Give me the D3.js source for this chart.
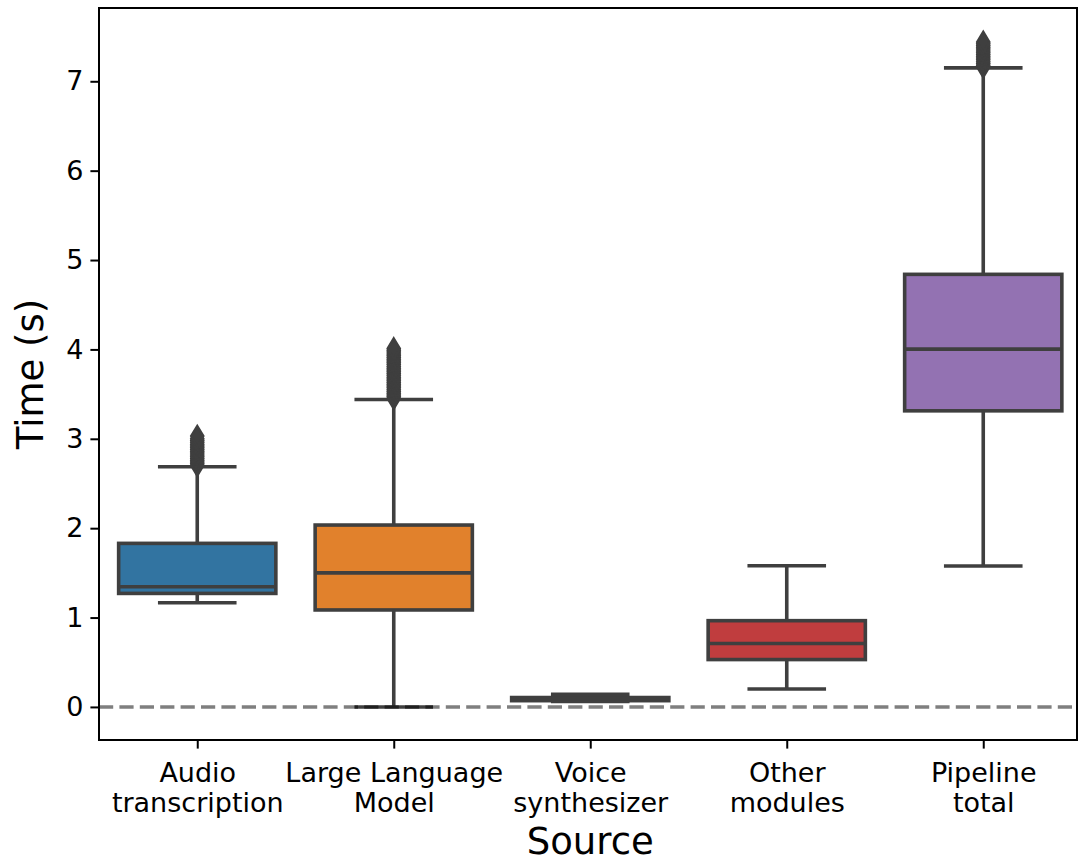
<!DOCTYPE html>
<html>
<head>
<meta charset="utf-8">
<script src="https://cdn.jsdelivr.net/npm/d3@7"></script>
<style>
  html, body { margin: 0; padding: 0; background: #fff; }
  svg { display: block; font-family: "DejaVu Sans", sans-serif; }
</style>
</head>
<body>
<svg id="chart" width="1078" height="863"></svg>
<script>
// Latency per pipeline stage (seconds)
const categories = [
  ["Audio", "transcription"],
  ["Large Language", "Model"],
  ["Voice", "synthesizer"],
  ["Other", "modules"],
  ["Pipeline", "total"]
];
const whiskerLow  = [1.166, 0.00, 0.06, 0.20, 1.577];
const quartile1   = [1.27,  1.085, 0.07, 0.53, 3.313];
const medians     = [1.345, 1.50, 0.09, 0.71, 4.003];
const quartile3   = [1.83,  2.035, 0.105, 0.965, 4.84];
const whiskerHigh = [2.687, 3.44, 0.14, 1.58, 7.15];

const audioFliers = [2.70, 2.72, 2.74, 2.76, 2.78, 2.80, 2.82, 2.84, 2.86, 2.88,
                     2.90, 2.92, 2.94, 2.96, 2.98, 3.00, 3.03];
const llmFliers = [3.45, 3.47, 3.49, 3.51, 3.53, 3.55, 3.57, 3.59, 3.61, 3.63,
                   3.65, 3.67, 3.69, 3.71, 3.73, 3.75, 3.77, 3.79, 3.81, 3.83,
                   3.85, 3.87, 3.89, 3.91, 3.93, 3.95, 3.97, 3.99, 4.01];
const voiceFliers = [];
const otherFliers = [];
const pipelineFliers = [7.16, 7.18, 7.20, 7.22, 7.24, 7.26, 7.28, 7.30, 7.32, 7.34,
                        7.36, 7.38, 7.40, 7.42, 7.44];
const fliers = [audioFliers, llmFliers, voiceFliers, otherFliers, pipelineFliers];

const yTicks = [0, 1, 2, 3, 4, 5, 6, 7];
const colors = ["#3274a1", "#e1812c", "#3a923a", "#c03d3e", "#9372b2"];
const lineColor = "#3f3f3f";

const plot = { left: 99, right: 1077, top: 8, bottom: 740 };

const svg = d3.select("#chart");

// categorical positions: index -0.5 .. 4.5
const x = d3.scaleLinear().domain([-0.5, 4.5]).range([99, 1081.5]);
const y = d3.scaleLinear().domain([-0.37, 7.82]).range([plot.bottom, plot.top]);

const bandW = x(1) - x(0);
const boxW = bandW * 0.8;
const capW = boxW / 2;
const lw = 3.6;

const g = svg.append("g");

categories.forEach((c, i) => {
  const cx = x(i);
  const gi = g.append("g");
  // box
  gi.append("rect")
    .attr("x", cx - boxW / 2)
    .attr("y", y(quartile3[i]))
    .attr("width", boxW)
    .attr("height", y(quartile1[i]) - y(quartile3[i]))
    .attr("fill", colors[i])
    .attr("stroke", lineColor)
    .attr("stroke-width", lw);
  // whiskers
  gi.append("line")
    .attr("x1", cx).attr("x2", cx)
    .attr("y1", y(quartile3[i])).attr("y2", y(whiskerHigh[i]))
    .attr("stroke", lineColor).attr("stroke-width", lw);
  gi.append("line")
    .attr("x1", cx).attr("x2", cx)
    .attr("y1", y(quartile1[i])).attr("y2", y(whiskerLow[i]))
    .attr("stroke", lineColor).attr("stroke-width", lw);
  // caps
  [whiskerHigh[i], whiskerLow[i]].forEach(v => {
    gi.append("line")
      .attr("x1", cx - capW / 2).attr("x2", cx + capW / 2)
      .attr("y1", y(v)).attr("y2", y(v))
      .attr("stroke", lineColor).attr("stroke-width", lw);
  });
  // median
  gi.append("line")
    .attr("x1", cx - boxW / 2).attr("x2", cx + boxW / 2)
    .attr("y1", y(medians[i])).attr("y2", y(medians[i]))
    .attr("stroke", lineColor).attr("stroke-width", lw);
  // outliers as thin diamonds
  gi.selectAll("path.flier")
    .data(fliers[i])
    .join("path")
    .attr("class", "flier")
    .attr("d", "M0,-10.3L6.2,0L0,10.3L-6.2,0Z")
    .attr("transform", v => `translate(${cx},${y(v)})`)
    .attr("fill", lineColor)
    .attr("stroke", lineColor)
    .attr("stroke-width", 2.2)
    .attr("stroke-linejoin", "miter");
});

// zero reference line
svg.append("line")
  .attr("x1", plot.left).attr("x2", plot.right)
  .attr("y1", y(0)).attr("y2", y(0))
  .attr("stroke", "#000")
  .attr("stroke-opacity", 0.5)
  .attr("stroke-width", 3.6)
  .attr("stroke-dasharray", "14.2,6.2");

// y axis
const yAxis = d3.axisLeft(y).tickValues(yTicks).tickFormat(d3.format("d"))
  .tickSize(8.6).tickPadding(7);
const ya = svg.append("g").attr("transform", `translate(${plot.left},0)`).call(yAxis);
ya.select(".domain").remove();
ya.selectAll(".tick line").attr("stroke", "#000").attr("stroke-width", 2);
ya.selectAll(".tick text")
  .attr("font-size", 27).attr("font-family", "DejaVu Sans").attr("fill", "#000");

// x axis
const xAxis = d3.axisBottom(x).tickValues(d3.range(categories.length))
  .tickSize(8.6).tickFormat("");
const xa = svg.append("g").attr("transform", `translate(0,${plot.bottom})`).call(xAxis);
xa.select(".domain").remove();
xa.selectAll(".tick line").attr("stroke", "#000").attr("stroke-width", 2);
xa.selectAll(".tick").each(function(d) {
  const t = d3.select(this).append("text")
    .attr("text-anchor", "middle")
    .attr("font-size", 27)
    .attr("font-family", "DejaVu Sans")
    .attr("fill", "#000");
  categories[d].forEach((line, k) => {
    t.append("tspan").attr("x", 0).attr("y", 41.7 + k * 30).text(line);
  });
});

// frame
svg.append("rect")
  .attr("x", plot.left).attr("y", plot.top)
  .attr("width", plot.right - plot.left)
  .attr("height", plot.bottom - plot.top)
  .attr("fill", "none")
  .attr("stroke", "#000")
  .attr("stroke-width", 2);

// axis titles
svg.append("text")
  .attr("x", (plot.left + 1081.5) / 2)
  .attr("y", 854)
  .attr("text-anchor", "middle")
  .attr("font-size", 37)
  .attr("fill", "#000")
  .text("Source");

svg.append("text")
  .attr("transform", `translate(43,${(plot.top + plot.bottom) / 2}) rotate(-90)`)
  .attr("text-anchor", "middle")
  .attr("font-size", 37)
  .attr("fill", "#000")
  .text("Time (s)");
</script>
</body>
</html>
